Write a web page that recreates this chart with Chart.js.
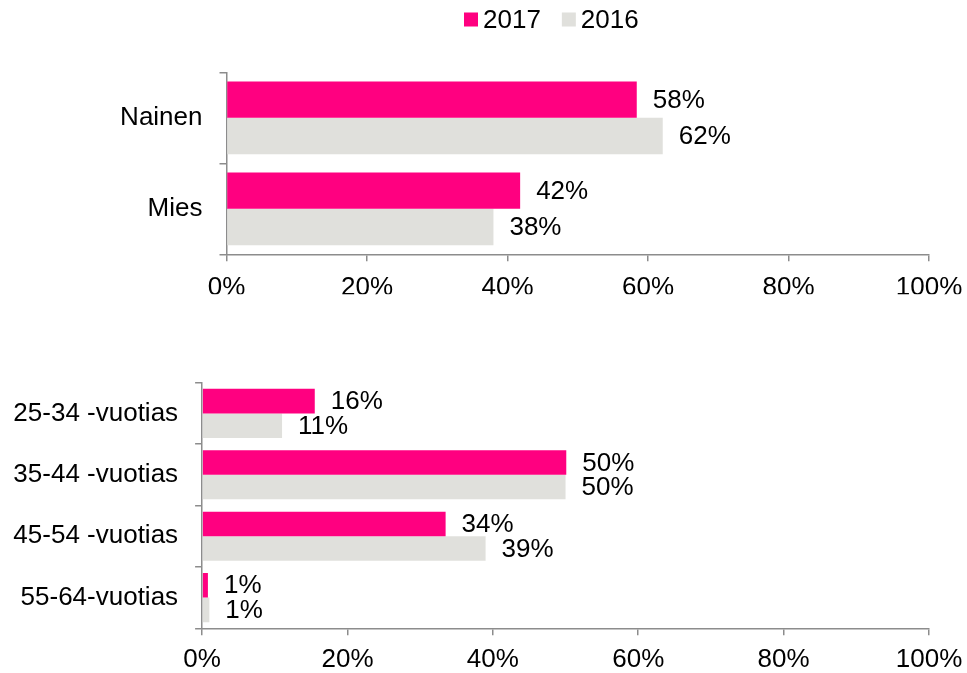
<!DOCTYPE html>
<html>
<head>
<meta charset="utf-8">
<script src="https://cdn.jsdelivr.net/npm/chart.js@4"></script>
<style>
  html, body { margin: 0; padding: 0; background: #ffffff; }
  #wrap { position: relative; width: 967px; height: 673px; overflow: hidden; }
  canvas { position: absolute; left: 0; }
</style>
</head>
<body>
<div id="wrap">
  <canvas id="c1" width="967" height="320" style="top:0px"></canvas>
  <canvas id="c2" width="967" height="353" style="top:320px"></canvas>
</div>
<script>
// ---- data ----
const seriesNames = ['2017', '2016'];
const genderCategories = ['Nainen', 'Mies'];
const gender2017 = [58.4, 41.8];
const gender2016 = [62.1, 38.0];
const ageCategories = ['25-34 -vuotias', '35-44 -vuotias', '45-54 -vuotias', '55-64-vuotias'];
const age2017 = [15.5, 50.1, 33.5, 0.8];
const age2016 = [11.0, 50.0, 39.0, 1.0];
const xTickValues = [0, 20, 40, 60, 80, 100];

// ---- style ----
const FONT = '"Liberation Sans", Arial, "Helvetica", sans-serif';
const PINK = '#FF0080';
const GREY = '#E0E0DC';
const AXIS = '#8c8c8c';

const valueLabels = {
  id: 'valueLabels',
  afterDatasetsDraw(chart) {
    const ctx = chart.ctx;
    ctx.save();
    ctx.font = '26px ' + FONT;
    ctx.fillStyle = '#000';
    ctx.textAlign = 'left';
    ctx.textBaseline = 'middle';
    chart.data.datasets.forEach((ds, di) => {
      const meta = chart.getDatasetMeta(di);
      meta.data.forEach((el, i) => {
        ctx.fillText(Math.round(ds.data[i]) + '%', el.x + 16, el.y + 1);
      });
    });
    ctx.restore();
  }
};

const customLegend = {
  id: 'customLegend',
  afterDraw(chart) {
    const ctx = chart.ctx;
    ctx.save();
    ctx.font = '26px ' + FONT;
    ctx.textBaseline = 'middle';
    ctx.textAlign = 'left';
    let x = 464;
    const cy = 19.5;
    chart.data.datasets.forEach((ds) => {
      ctx.fillStyle = ds.backgroundColor;
      ctx.fillRect(x, cy - 7, 14, 14);
      x += 19;
      ctx.fillStyle = '#000';
      ctx.fillText(ds.label, x, cy + 1);
      x += ctx.measureText(ds.label).width + 21;
    });
    ctx.restore();
  }
};

function makeChart(canvasId, cats, s1, s2, yWidth, pad, legend, xPad) {
  const plugins = [valueLabels];
  if (legend) plugins.push(customLegend);
  return new Chart(document.getElementById(canvasId), {
    type: 'bar',
    data: {
      labels: cats,
      datasets: [
        { label: seriesNames[0], data: s1, backgroundColor: PINK, categoryPercentage: 0.8, barPercentage: 1.0 },
        { label: seriesNames[1], data: s2, backgroundColor: GREY, categoryPercentage: 0.8, barPercentage: 1.0 }
      ]
    },
    options: {
      indexAxis: 'y',
      responsive: false,
      animation: false,
      layout: { padding: pad },
      plugins: { legend: { display: false }, tooltip: { enabled: false } },
      scales: {
        x: {
          type: 'linear',
          min: 0, max: 100,
          afterBuildTicks(scale) { scale.ticks = xTickValues.map(v => ({ value: v })); },
          afterFit(scale) { scale.height = 40; scale.paddingLeft = 0; scale.paddingRight = 0; },
          border: { display: true, color: AXIS, width: 1.5 },
          grid: { drawOnChartArea: false, drawTicks: true, tickLength: 7, color: AXIS, lineWidth: 1.5 },
          ticks: { color: '#000', padding: xPad, font: { family: FONT, size: 26 }, callback: v => v + '%', maxRotation: 0 }
        },
        y: {
          type: 'category',
          afterFit(scale) { scale.width = yWidth; scale.paddingTop = 0; scale.paddingBottom = 0; },
          border: { display: true, color: AXIS, width: 1.5 },
          grid: { drawOnChartArea: false, drawTicks: true, tickLength: 7, color: AXIS, lineWidth: 1.5, offset: true },
          ticks: { color: '#000', padding: 17, font: { family: FONT, size: 26 } }
        }
      }
    },
    plugins: plugins
  });
}

makeChart('c1', genderCategories, gender2017, gender2016, 226.5,
  { top: 72.3, right: 38, bottom: 25.7, left: 0 }, true, 11);
makeChart('c2', ageCategories, age2017, age2016, 202.1,
  { top: 62.7, right: 38, bottom: 4.7, left: 0 }, false, 9);
</script>
</body>
</html>
